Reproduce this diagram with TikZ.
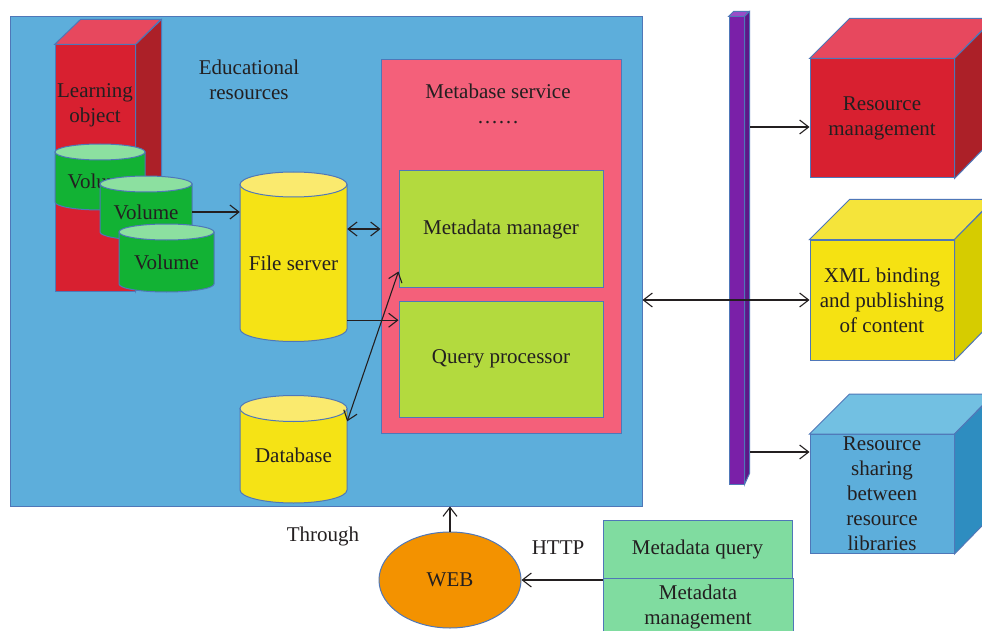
\documentclass[tikz,border=0pt]{standalone}
\usepackage{fontspec}
\setmainfont{Liberation Serif}
\usetikzlibrary{arrows.meta,shapes.geometric}

\definecolor{edgeblue}{HTML}{4F77B8}
\definecolor{inkblack}{HTML}{231F20}
\definecolor{skyblue}{HTML}{5DAEDB}
\definecolor{lored}{HTML}{D82030}
\definecolor{lotop}{HTML}{E7485E}
\definecolor{loside}{HTML}{AC2028}
\definecolor{volgreen}{HTML}{12B234}
\definecolor{voltop}{HTML}{8CE0A0}
\definecolor{cylyellow}{HTML}{F5E315}
\definecolor{cyltop}{HTML}{FAEA6E}
\definecolor{metapink}{HTML}{F4607A}
\definecolor{procgreen}{HTML}{B3DA3E}
\definecolor{buspurple}{HTML}{7A20A8}
\definecolor{bustop}{HTML}{9A4CC8}
\definecolor{busside}{HTML}{5E1888}
\definecolor{xmlyellow}{HTML}{F5E212}
\definecolor{xmltop}{HTML}{F5E43A}
\definecolor{xmlside}{HTML}{D6CC00}
\definecolor{rstop}{HTML}{72C0E2}
\definecolor{rsside}{HTML}{2E8DC0}
\definecolor{mintgreen}{HTML}{80DCA0}
\definecolor{weborange}{HTML}{F39200}

% drum: name, centre x, top y, bottom y, x radius, y radius, body, top, text
\newcommand{\drum}[9]{%
  \filldraw[fill=#7, draw=edgeblue, line width=1pt]
    (#2-#5,#3) -- (#2-#5,#4) arc[start angle=180, end angle=360, x radius=#5pt, y radius=#6pt]
    -- (#2+#5,#3) -- cycle;
  \filldraw[fill=#8, draw=edgeblue, line width=1pt] (#2,#3) ellipse[x radius=#5pt, y radius=#6pt];
  \node[lbl, minimum width=2*#5, minimum height=#4-#3-#6] (#1) at ({#2},{(#3+#6+#4)/2}) {#9};
}

\begin{document}
\begin{tikzpicture}[
    x=1pt, y=-1pt,
    font=\fontsize{21}{25}\selectfont,
    lbl/.style={text=inkblack, align=center, inner sep=0pt},
    box/.style={lbl, draw=edgeblue, line width=1pt},
    face/.style={draw=edgeblue, line width=1pt},
    arr/.style={-{Straight Barb[length=9pt,width=14pt]}, line width=1.1pt, inkblack},
    darr/.style={{Straight Barb[length=9pt,width=14pt]}-{Straight Barb[length=9pt,width=14pt]}, line width=1.1pt, inkblack}
]

    \useasboundingbox (0,0) rectangle (982,631);
    \clip (0,0) rectangle (982,631);
    \fill[white] (0,0) rectangle (982,631);

    % --- Educational resources ---
    \node[box, fill=skyblue, minimum width=632, minimum height=489] (edu) at (326,261.5) {};
    \node[lbl] (edutext) at (249,80) {Educational\\resources};

    % --- Learning object block ---
    \node[box, fill=lored, minimum width=80, minimum height=246] (lobj) at (95,168) {};
    \filldraw[face, fill=lotop] (lobj.north west) -- ++(26,-25) -- ++(80,0) -- (lobj.north east) -- cycle;
    \filldraw[face, fill=loside] (lobj.north east) -- ++(26,-25) -- ++(0,221) -- (lobj.south east) -- cycle;
    \node[lbl] (lotext) at (95,105) {Learning\\object};

    % --- Volumes and servers ---
    \drum{vola}{100}{152}{202}{45}{8}{volgreen}{voltop}{Volume}
    \drum{volb}{146}{184}{232}{46}{8}{volgreen}{voltop}{Volume}
    \drum{volc}{166.5}{232}{284}{47.5}{8}{volgreen}{voltop}{Volume}
    \drum{fs}{293.5}{184.5}{329}{53.5}{12.5}{cylyellow}{cyltop}{File server}
    \drum{db}{293.5}{408.5}{490}{53.5}{13}{cylyellow}{cyltop}{Database}

    % --- Metabase service ---
    \node[box, fill=metapink, minimum width=240, minimum height=373] (meta) at (501,246.5) {};
    \node[lbl, anchor=north] (metatext) at (498,84) {Metabase service\\……};
    \node[box, fill=procgreen, minimum width=204, minimum height=116] (mm) at (501,229) {Metadata manager};
    \node[box, fill=procgreen, minimum width=204, minimum height=116] (qp) at (501,359) {Query processor};

    % --- Bus ---
    \node[box, fill=buspurple, minimum width=15, minimum height=467] (bus) at (736.5,250.5) {};
    \filldraw[face, fill=bustop] (bus.north west) -- ++(5,-5) -- ++(15,0) -- (bus.north east) -- cycle;
    \filldraw[face, fill=busside] (bus.north east) -- ++(5,-5) -- ++(0,462) -- (bus.south east) -- cycle;

    % --- Services on the right ---
    \node[box, fill=lored, minimum width=144, minimum height=119] (rm) at (882,118.5) {Resource\\management};
    \filldraw[face, fill=lotop] (rm.north west) -- ++(40,-40) -- ++(144,0) -- (rm.north east) -- cycle;
    \filldraw[face, fill=loside] (rm.north east) -- ++(40,-40) -- ++(0,119) -- (rm.south east) -- cycle;

    \node[box, fill=xmlyellow, minimum width=144, minimum height=120] (xml) at (882,300) {XML binding\\and publishing\\of content};
    \filldraw[face, fill=xmltop] (xml.north west) -- ++(40,-40) -- ++(144,0) -- (xml.north east) -- cycle;
    \filldraw[face, fill=xmlside] (xml.north east) -- ++(40,-40) -- ++(0,120) -- (xml.south east) -- cycle;

    \node[box, fill=skyblue, minimum width=144, minimum height=119] (rs) at (882,494) {Resource\\sharing\\between\\resource\\libraries};
    \filldraw[face, fill=rstop] (rs.north west) -- ++(40,-40) -- ++(144,0) -- (rs.north east) -- cycle;
    \filldraw[face, fill=rsside] (rs.north east) -- ++(40,-40) -- ++(0,119) -- (rs.south east) -- cycle;

    % --- Web access ---
    \node[box, fill=mintgreen, minimum width=189, minimum height=58] (mq) at (697.5,549) {Metadata query};
    \node[box, fill=mintgreen, minimum width=190, minimum height=58] (mgmt) at (698,607) {Metadata\\management};
    \node[box, ellipse, fill=weborange, minimum width=142, minimum height=96] (web) at (450,580) {WEB};
    \node[lbl] (through) at (323,536) {Through};
    \node[lbl] (http) at (558,548) {HTTP};

    % --- Connectors ---
    \coordinate (tapa) at (750,127);
    \coordinate (tapb) at (750,452);
    \draw[arr] (volb.east) -- (volb.east -| fs.west);
    \draw[darr] (fs.east |- mm.west) -- (meta.west |- mm.west);
    \draw[arr] ([yshift=9pt]fs.south east) -- ([yshift=9pt]fs.south east -| qp.west);
    \draw[darr] (db.north east) -- ([yshift=16pt]mm.south west);
    \draw[darr] (edu.east |- xml.west) -- (xml.west);
    \draw[arr] (tapa) -- (tapa -| rm.west);
    \draw[arr] (tapb) -- (tapb -| rs.west);
    \draw[arr] (web.north) -- (web.north |- edu.south);
    \draw[arr] (mgmt.west |- web.east) -- (web.east);

\end{tikzpicture}
\end{document}
